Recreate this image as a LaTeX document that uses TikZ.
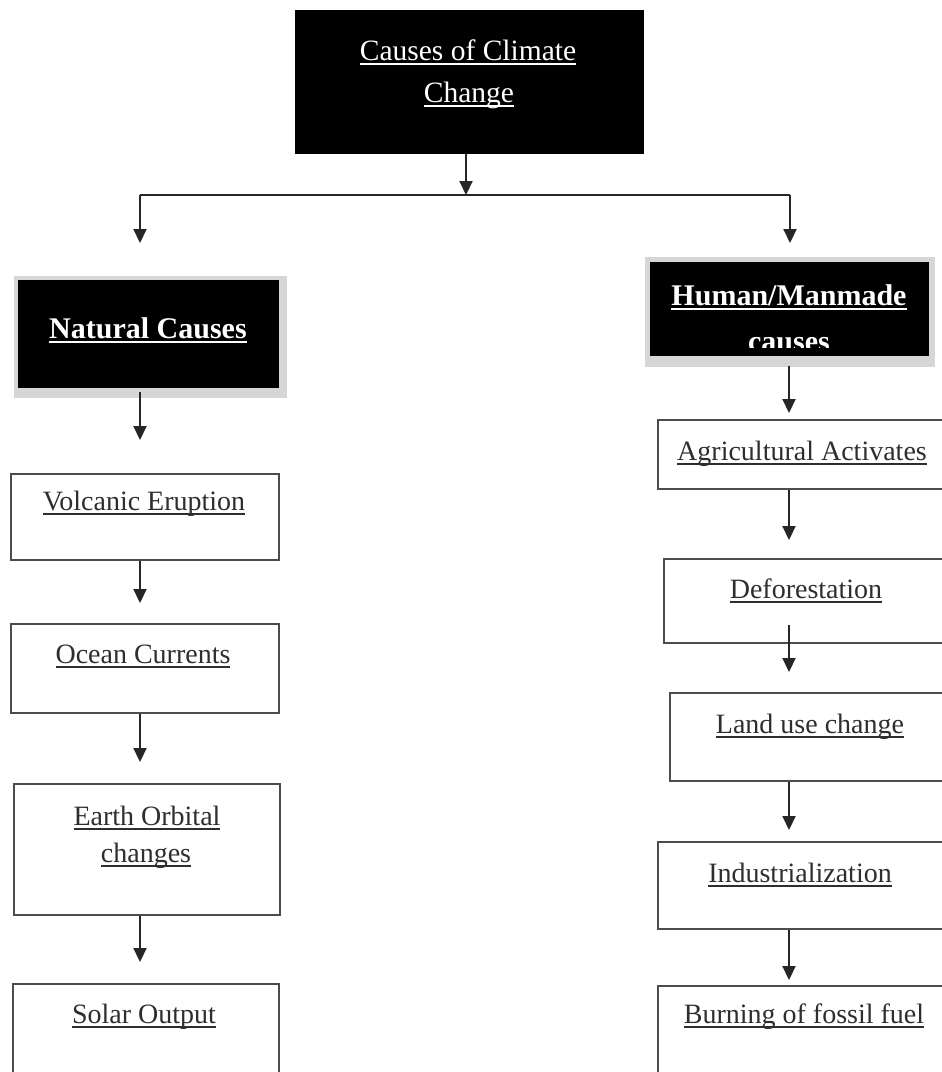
\documentclass[tikz,border=0pt]{standalone}
\usepackage{fontspec}
\setmainfont{Liberation Serif}
\usetikzlibrary{arrows.meta}
% underlined text with a thicker rule
\newcommand\ulin[1]{\setbox0\hbox{#1}\rlap{\raisebox{-5pt}{\rule{\wd0}{1.6pt}}}\box0}
\begin{document}
\begin{tikzpicture}[x=1pt,y=-1pt,
  box/.style={draw=black!70,line width=2.2pt,inner sep=0pt,anchor=north west,fill=white},
  darkbox/.style={fill=black,draw=black,line width=0.6pt,inner sep=0pt,anchor=north west},
  lbl/.style={anchor=base,inner sep=0pt,text=black!82,font=\fontsize{28}{34}\selectfont},
  wlbl/.style={anchor=base,inner sep=0pt,text=white,font=\fontsize{30}{36}\selectfont\bfseries},
  tlbl/.style={anchor=base,inner sep=0pt,text=white,font=\fontsize{29.5}{36}\selectfont},
  link/.style={line width=2.1pt,draw=black!85},
  arr/.style={link,-{Triangle[width=13pt,length=14pt]}}]
\clip (0,0) rectangle (942,1072);
\fill[white] (0,0) rectangle (942,1072);

% column axes
\coordinate (cl) at (140,0);
\coordinate (cr) at (789,0);

% title
\node[darkbox,minimum width=348,minimum height=143] (top) at (295,10) {};
\node[tlbl] (topt1) at (468,60) {\ulin{Causes of Climate}};
\node[tlbl] (topt2) at (469,102) {\ulin{Change}};

% branch
\coordinate (jn) at (466,195);
\coordinate (jl) at (140,195);
\coordinate (jr) at (790,195);
\draw[link] (jl) -- (jr);
\draw[arr] (top.south -| jn) -- (jn);

% natural causes header
\fill[black!16] (14,276) rectangle (287,398);
\node[darkbox,minimum width=260,minimum height=107] (nat) at (18,280) {};
\node[wlbl] (natt) at (148,338) {\ulin{Natural Causes}};

% human causes header
\fill[black!16] (645,257) rectangle (935,367);
\node[darkbox,minimum width=278,minimum height=93] (hum) at (650,262) {};
\node[wlbl] (humt1) at (789,305) {\ulin{Human/Manmade}};
\begin{scope}
  \clip (650,262) rectangle (928,347);
  \node[wlbl] (humt2) at (789,351) {causes};
\end{scope}

\draw[arr,shorten >=37pt] (jl) -- (jl |- nat.north);
\draw[arr,shorten >=19pt] (jr) -- (jr |- hum.north);

% natural column
\node[box,minimum width=268,minimum height=86] (volc) at (10,473) {};
\node[lbl] (volct) at (144,510) {\ulin{Volcanic Eruption}};
\node[box,minimum width=268,minimum height=89] (ocean) at (10,623) {};
\node[lbl] (oceant) at (143,663) {\ulin{Ocean Currents}};
\node[box,minimum width=266,minimum height=131] (earth) at (13,783) {};
\node[lbl] (eartht1) at (147,825) {\ulin{Earth Orbital}};
\node[lbl] (eartht2) at (146,862) {\ulin{changes}};
\node[box,minimum width=266,minimum height=110] (solar) at (12,983) {};
\node[lbl] (solart) at (144,1023) {\ulin{Solar Output}};

\draw[arr,shorten <=4pt,shorten >=33pt] (nat.south -| cl) -- (volc.north -| cl);
\draw[arr,shorten >=20pt] (volc.south -| cl) -- (ocean.north -| cl);
\draw[arr,shorten >=21pt] (ocean.south -| cl) -- (earth.north -| cl);
\draw[arr,shorten >=21pt] (earth.south -| cl) -- (solar.north -| cl);

% human column
\node[box,minimum width=300,minimum height=69] (agri) at (657,419) {};
\node[lbl] (agrit) at (802,460) {\ulin{Agricultural Activates}};
\node[box,minimum width=300,minimum height=84] (defo) at (663,558) {};
\node[lbl] (defot) at (806,598) {\ulin{Deforestation}};
\node[box,minimum width=300,minimum height=88] (land) at (669,692) {};
\node[lbl] (landt) at (810,733) {\ulin{Land use change}};
\node[box,minimum width=300,minimum height=87] (indus) at (657,841) {};
\node[lbl] (indust) at (800,882) {\ulin{Industrialization}};
\node[box,minimum width=300,minimum height=110] (burn) at (657,985) {};
\node[lbl] (burnt) at (804,1023) {\ulin{Burning of fossil fuel}};

\draw[arr,shorten <=10pt,shorten >=6pt] (hum.south -| cr) -- (agri.north -| cr);
\draw[arr,shorten >=18pt] (agri.south -| cr) -- (defo.north -| cr);
\draw[arr,shorten <=-19pt,shorten >=20pt] (defo.south -| cr) -- (land.north -| cr);
\draw[arr,shorten >=11pt] (land.south -| cr) -- (indus.north -| cr);
\draw[arr,shorten >=5pt] (indus.south -| cr) -- (burn.north -| cr);
\end{tikzpicture}
\end{document}
